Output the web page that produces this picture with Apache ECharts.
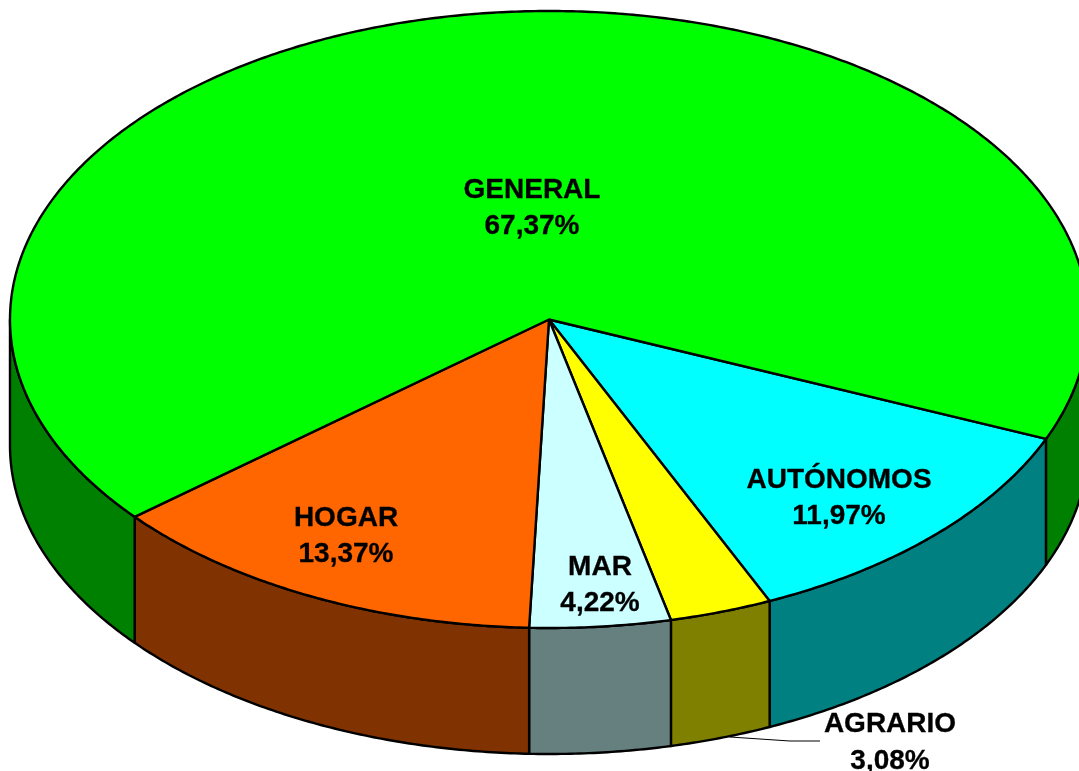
<!DOCTYPE html>
<html>
<head>
<meta charset="utf-8">
<style>html,body{margin:0;padding:0;background:#fff}#c{width:1079px;height:771px}</style>
<script src="https://cdn.jsdelivr.net/npm/echarts@6/dist/echarts.min.js"></script>
</head>
<body>
<div id="c"></div>
<script>
// Data, clockwise from the first slice
const categories = ['AUTÓNOMOS', 'AGRARIO', 'MAR', 'HOGAR', 'GENERAL'];
const shares = [11.97, 3.08, 4.22, 13.37, 67.37];
const topColors = ['#00FFFF', '#FFFF00', '#CCFFFF', '#FF6600', '#00FF00'];
const sideColors = ['#008080', '#808000', '#668080', '#803300', '#008000'];
// Layout
const labelCentres = [[839, 498.5], [890, 743], [600, 585.5], [346, 536.5], [532, 208.5]];
const leaderLine = [[730, 737], [790, 741], [820, 741]];
const cx = 549, cy = 319.5, rx = 539, ry = 308.5, depth = 126, startDeg = 22.75;
const total = shares.reduce((a, b) => a + b, 0);

const rad = d => d * Math.PI / 180;
const pt = (d, dy) => [cx + rx * Math.cos(rad(d)), cy + ry * Math.sin(rad(d)) + (dy || 0)];
function arc(a, b, dy) {
  const n = Math.max(2, Math.ceil(Math.abs(b - a) * 2)), out = [];
  for (let i = 0; i <= n; i++) out.push(pt(a + (b - a) * i / n, dy));
  return out;
}
const line = { stroke: '#000', lineWidth: 2.4, lineJoin: 'round' };

function renderItem(params, api) {
  const i = params.dataIndex;
  let before = 0;
  for (let k = 0; k < i; k++) before += shares[k];
  const a0 = startDeg + before / total * 360;
  const a1 = a0 + api.value(0) / total * 360;
  const children = [];
  // front wall: only the part of the rim in the 0-180 and 360-540 ranges faces the viewer
  [[0, 180], [360, 540]].forEach(([lo, hi]) => {
    const s = Math.max(a0, lo), e = Math.min(a1, hi);
    if (e > s) {
      children.push({
        type: 'polygon',
        shape: { points: arc(s, e, 0).concat(arc(e, s, depth)) },
        style: Object.assign({ fill: sideColors[i] }, line)
      });
    }
  });
  return { type: 'group', children };
}
function renderTop(params, api) {
  const i = params.dataIndex;
  let before = 0;
  for (let k = 0; k < i; k++) before += shares[k];
  const a0 = startDeg + before / total * 360;
  const a1 = a0 + api.value(0) / total * 360;
  return {
    type: 'group',
    children: [
      {
        type: 'polygon',
        shape: { points: [[cx, cy]].concat(arc(a0, a1, 0)) },
        style: Object.assign({ fill: topColors[i] }, line)
      },
      {
        type: 'text',
        z2: 10,
        style: {
          x: labelCentres[i][0], y: labelCentres[i][1],
          text: categories[i] + '\n' + api.value(0).toFixed(2).replace('.', ',') + '%',
          font: 'bold 28px "Liberation Sans", Arial, sans-serif',
          lineHeight: 36.5, fill: '#000', stroke: '#000', lineWidth: 0.3,
          align: 'center', verticalAlign: 'middle'
        }
      }
    ]
  };
}
const chart = echarts.init(document.getElementById('c'), null, { renderer: 'canvas' });
const seriesData = shares.map(v => [v]);
chart.setOption({
  animation: false,
  backgroundColor: '#ffffff',
  series: [
    { type: 'custom', coordinateSystem: 'none', silent: true, z: 1, renderItem, data: seriesData },
    { type: 'custom', coordinateSystem: 'none', silent: true, z: 2, renderItem: renderTop, data: seriesData },
    {
      type: 'custom', coordinateSystem: 'none', silent: true, z: 3, data: [[0]],
      renderItem: () => ({
        type: 'polyline',
        shape: { points: leaderLine },
        style: { stroke: '#000', lineWidth: 1, fill: null }
      })
    }
  ]
});
</script>
</body>
</html>
